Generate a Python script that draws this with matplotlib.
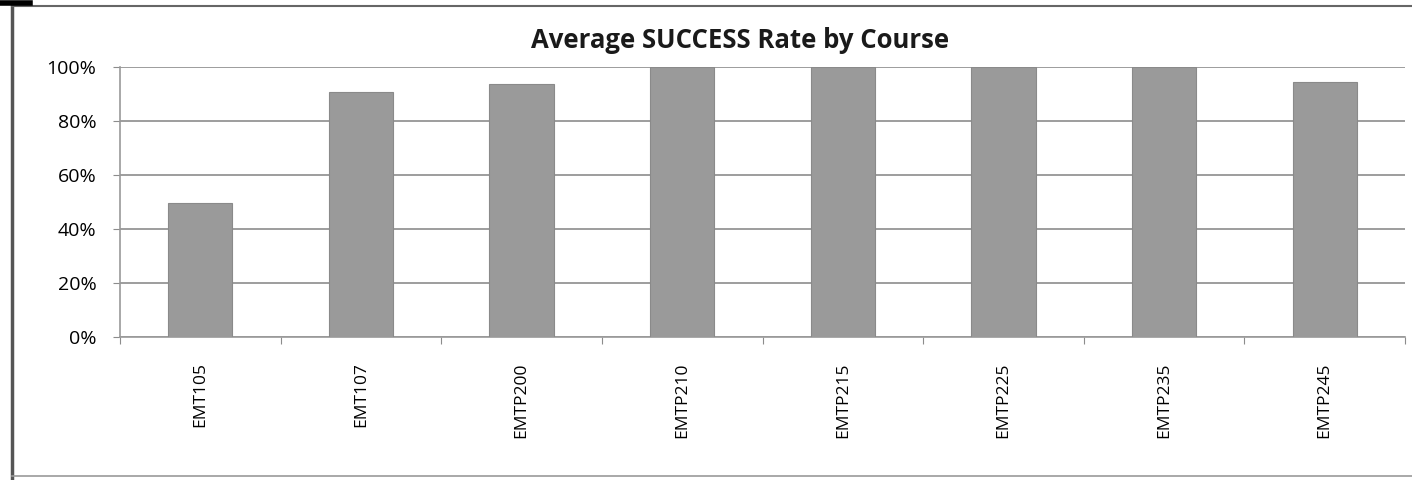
import matplotlib.pyplot as plt
from matplotlib.lines import Line2D
from matplotlib.ticker import PercentFormatter

courses = ["EMT105", "EMT107", "EMTP200", "EMTP210", "EMTP215", "EMTP225", "EMTP235", "EMTP245"]
success_rate = [49.6, 90.7, 93.7, 100, 100, 100, 100, 94.4]
y_ticks = [0, 20, 40, 60, 80, 100]

plt.rcParams["font.family"] = ["Open Sans", "DejaVu Sans"]

fig = plt.figure(figsize=(14.12, 4.8), dpi=100)
ax = fig.add_axes([120 / 1412, 1 - 337 / 480, 1285 / 1412, 270 / 480])

x = range(len(courses))
ax.bar(x, success_rate, width=0.4, color="#9a9a9a", edgecolor="#8a8a8a", linewidth=0.8, zorder=3)

ax.set_xlim(-0.5, len(courses) - 0.5)
ax.set_ylim(0, 100)
ax.set_yticks(y_ticks)
ax.yaxis.set_major_formatter(PercentFormatter(decimals=0))
ax.grid(axis="y", color="#8c8c8c", linewidth=1.2, zorder=0)

# category labels sit between boundary ticks
ax.set_xticks([i + 0.5 for i in range(-1, len(courses))])
ax.set_xticklabels([])
ax.set_xticks(list(x), minor=True)
ax.set_xticklabels(courses, minor=True, rotation=90, fontsize=12.5)
ax.tick_params(axis="x", which="minor", length=0, pad=18)
ax.tick_params(axis="x", which="major", length=5, color="#8c8c8c", direction="out")
ax.tick_params(axis="y", length=5, color="#8c8c8c", labelsize=14, pad=12)

for side in ["top", "right"]:
    ax.spines[side].set_visible(False)
for side in ["left", "bottom"]:
    ax.spines[side].set_color("#9a9a9a")
    ax.spines[side].set_linewidth(1.2)

fig.text(740 / 1412, 1 - 41 / 480, "Average SUCCESS Rate by Course",
         ha="center", va="center", fontsize=18.5, fontweight="bold", color="#1a1a1a")

# outer frame of the scanned chart
fig.add_artist(Line2D([12 / 1412, 12 / 1412], [0, 1 - 6 / 480], color="#555555", linewidth=2.5))
fig.add_artist(Line2D([12 / 1412, 1], [1 - 6 / 480, 1 - 6 / 480], color="#666666", linewidth=1.5))
fig.add_artist(Line2D([0, 30 / 1412], [1 - 3 / 480, 1 - 3 / 480], color="black", linewidth=4))
fig.add_artist(Line2D([12 / 1412, 1], [1 - 476 / 480, 1 - 476 / 480], color="#999999", linewidth=1.2))

fig.savefig("out.png", dpi=100)
